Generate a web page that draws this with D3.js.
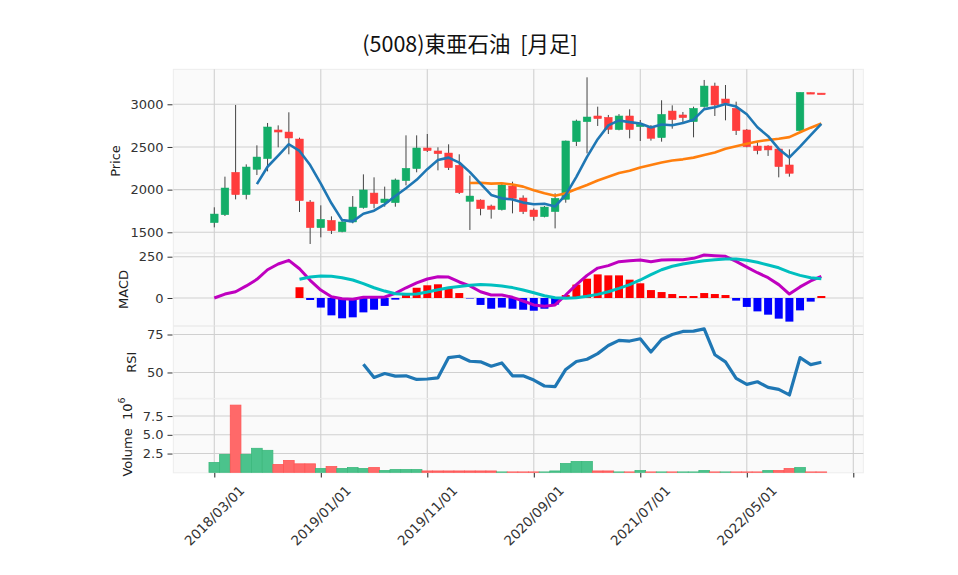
<!DOCTYPE html>
<html><head><meta charset="utf-8">
<script src="https://cdn.jsdelivr.net/npm/d3@7/dist/d3.min.js"></script>
<style>body{margin:0;background:#fff}svg{display:block}</style>
</head><body><svg id="c" width="958" height="575"></svg>
<script>
const title = "(5008)東亜石油  [月足]";
const dates = ["2018/03/01","2018/04/01","2018/05/01","2018/06/01","2018/07/01","2018/08/01","2018/09/01","2018/10/01","2018/11/01","2018/12/01",
"2019/01/01","2019/02/01","2019/03/01","2019/04/01","2019/05/01","2019/06/01","2019/07/01","2019/08/01","2019/09/01","2019/10/01",
"2019/11/01","2019/12/01","2020/01/01","2020/02/01","2020/03/01","2020/04/01","2020/05/01","2020/06/01","2020/07/01","2020/08/01",
"2020/09/01","2020/10/01","2020/11/01","2020/12/01","2021/01/01","2021/02/01","2021/03/01","2021/04/01","2021/05/01","2021/06/01",
"2021/07/01","2021/08/01","2021/09/01","2021/10/01","2021/11/01","2021/12/01","2022/01/01","2022/02/01","2022/03/01","2022/04/01",
"2022/05/01","2022/06/01","2022/07/01","2022/08/01","2022/09/01","2022/10/01","2022/11/01","2022/12/01"];
const open  = [1613,1706,2203,1941,2238,2363,2699,2675,2593,1855,1554,1640,1507,1621,1789,1960,1847,1847,2105,2246,2488,2453,2429,2285,1863,1878,1808,1765,2042,1902,1761,1683,1742,1886,2562,2796,2863,2847,2703,2863,2738,2726,2609,2921,2875,2796,2972,3214,3062,2953,2699,2511,2511,2476,2289,2691,3138,3131];
const high  = [1793,2152,2992,2296,2519,2781,2753,2906,2609,1878,1816,1687,1630,1925,2179,2144,2035,2130,2636,2636,2652,2496,2531,2414,2164,1886,1824,2070,2093,1933,1781,1808,1957,2575,2820,3316,2972,2875,2885,2941,2816,2757,3047,2988,2910,2972,3285,3253,3226,3031,2710,2554,2520,2484,2472,3140,3138,3131];
const low   = [1558,1691,1886,1886,2171,2214,2496,2414,1738,1363,1441,1480,1500,1605,1777,1781,1800,1800,2050,2203,2441,2226,2230,1949,1527,1699,1660,1755,1722,1714,1636,1675,1546,1847,2511,2425,2746,2652,2695,2601,2570,2574,2562,2714,2777,2613,2960,2863,2812,2640,2496,2414,2395,2144,2152,2691,3130,3125];
const close = [1714,2019,1941,2265,2382,2734,2675,2605,1871,1554,1652,1519,1621,1796,1996,1835,1890,2113,2250,2488,2457,2421,2257,1964,1925,1777,1769,2054,1898,1742,1683,1796,1898,2570,2804,2851,2832,2707,2863,2703,2765,2601,2882,2820,2843,2953,3214,2992,3011,2691,2503,2457,2465,2269,2191,3140,3132,3127];
const volumeM = [1.31,2.39,8.96,2.39,3.20,2.93,1.04,1.58,1.13,1.13,0.50,0.77,0.50,0.63,0.50,0.63,0.23,0.36,0.36,0.36,0.18,0.18,0.18,0.18,0.18,0.18,0.18,0.05,0.05,0.05,0.05,0.05,0.18,1.17,1.44,1.44,0.18,0.18,0.05,0.05,0.23,0.05,0.05,0.05,0.05,0.05,0.23,0.05,0.05,0.05,0.05,0.05,0.23,0.23,0.50,0.63,0.05,0.05];
const ma5 = [null,null,null,null,2064,2268,2399,2532,2453,2288,2071,1840,1643,1628,1717,1753,1828,1926,2017,2115,2240,2346,2375,2317,2205,2069,1938,1898,1885,1848,1829,1835,1803,1938,2150,2384,2591,2753,2811,2791,2774,2728,2763,2754,2782,2820,2943,2965,3003,2973,2883,2731,2626,2477,2377,2505,2639,2771];
const ma25 = [null,null,null,null,null,null,null,null,null,null,null,null,null,null,null,null,null,null,null,null,null,null,null,null,2078,2080,2070,2075,2060,2035,1992,1957,1929,1957,2007,2055,2107,2151,2194,2222,2259,2288,2318,2341,2355,2375,2407,2436,2478,2509,2538,2565,2582,2597,2615,2673,2726,2775];
const macd = [0,24,38,73,113,171,206,228,177,107,48,8,-4,-8,4,4,6,28,62,91,115,129,127,97,73,38,18,18,4,-18,-42,-50,-42,18,81,137,181,196,220,226,230,220,230,232,232,240,260,256,252,222,187,153,123,81,24,67,103,131];
const signal = [null,null,null,null,null,null,null,null,113,127,133,131,123,109,87,62,42,26,22,24,36,50,62,69,77,81,79,73,63,48,32,14,2,-2,2,10,22,38,58,81,109,141,171,192,206,216,226,232,236,236,228,216,200,183,157,137,123,117];
const hist = [null,null,null,null,null,null,null,null,65,-12,-58,-105,-123,-117,-87,-71,-48,-10,18,62,77,83,65,30,-3,-42,-65,-58,-65,-71,-77,-65,-40,18,81,117,143,137,137,111,89,48,36,24,12,12,30,24,18,-16,-54,-81,-101,-125,-143,-75,-22,12];
const rsi = [null,null,null,null,null,null,null,null,null,null,null,null,null,null,55.4,46.7,49.3,47.6,47.8,45.4,45.7,46.5,59.8,60.7,57.4,57.0,54.1,56.3,47.8,47.8,45.0,41.1,40.7,52.0,57.2,58.7,62.4,67.8,71.1,70.7,72.2,63.5,71.7,75.0,77.0,77.2,78.7,61.7,57.0,46.1,42.2,43.9,40.2,38.9,35.2,59.8,55.2,56.7];
const xTickIdx = [0,10,20,30,40,50,60];
const xTickLabels = ["2018/03/01","2019/01/01","2019/11/01","2020/09/01","2021/07/01","2022/05/01",""];
const priceTicks = [1500,2000,2500,3000];
const macdTicks = [0,250];
const rsiTicks = [50,75];
const volTicks = [2.5,5.0,7.5];

const svg = d3.select("#c");
const FONT = "DejaVu Sans, sans-serif";
const X0 = 173.3, X1 = 863.3;
const x = d3.scaleLinear().domain([-3.85, 60.94]).range([X0, X1]);
const unit = x(1) - x(0);
const P = {price:[69.3,252.7], macd:[253.3,325.7], rsi:[326.3,398.3], vol:[398.9,472.8]};
const yP = d3.scaleLinear().domain([1261,3410]).range([P.price[1],P.price[0]]);
const yM = d3.scaleLinear().domain([-167.7,270.6]).range([P.macd[1],P.macd[0]]);
const yR = d3.scaleLinear().domain([33.0,80.4]).range([P.rsi[1],P.rsi[0]]);
const yV = d3.scaleLinear().domain([0,9.87]).range([472.3,398.3]);

const idx = d3.range(dates.length);

function panel(key, yscale, ticks, fmt) {
  const [t,b] = P[key];
  svg.append("rect").attr("x",X0).attr("y",t).attr("width",X1-X0).attr("height",b-t)
    .attr("fill","#fafafa").attr("stroke","#ededed").attr("stroke-width",1);
  const g = svg.append("g");
  g.selectAll(".vg").data(xTickIdx).join("line")
    .attr("x1",d=>x(d)).attr("x2",d=>x(d)).attr("y1",t).attr("y2",b)
    .attr("stroke","#d0d0d0").attr("stroke-width",1.1);
  g.selectAll(".hg").data(ticks).join("line")
    .attr("x1",X0).attr("x2",X1).attr("y1",d=>yscale(d)).attr("y2",d=>yscale(d))
    .attr("stroke","#d0d0d0").attr("stroke-width",1.1);
  const ax = svg.append("g").attr("transform","translate(172.5,0)")
    .call(d3.axisLeft(yscale).tickValues(ticks).tickFormat(fmt).tickSize(5).tickPadding(4));
  ax.select(".domain").remove();
  ax.selectAll("line").attr("stroke","#333");
  ax.selectAll("text").attr("font-family",FONT).attr("font-size",13).attr("fill","#333");
  return g;
}
panel("price", yP, priceTicks, d3.format("d"));
panel("macd", yM, macdTicks, d3.format("d"));
panel("rsi", yR, rsiTicks, d3.format("d"));
panel("vol", yV, volTicks, d3.format(".1f"));

function ylab(txt, cx, cy) {
  return svg.append("text").attr("transform",`translate(${cx},${cy}) rotate(-90)`)
    .attr("text-anchor","middle").attr("dominant-baseline","central")
    .attr("font-family",FONT).attr("font-size",13).attr("fill","#222").text(txt);
}
ylab("Price", 115.5, 161);
ylab("MACD", 123, 289.5);
ylab("RSI", 131.5, 362.3);
const vl = svg.append("text").attr("transform",`translate(126.5,437) rotate(-90)`)
  .attr("text-anchor","middle").attr("dominant-baseline","central")
  .attr("font-family",FONT).attr("font-size",13).attr("fill","#222").style("white-space","pre");
vl.append("tspan").text("Volume  10");
vl.append("tspan").attr("font-size",9.5).attr("dy",-6).text("6");

const UP = "#13ad68", DN = "#ff3d3d";
const cg = svg.append("g");
cg.selectAll(".wick").data(idx).join("line")
  .attr("x1",i=>x(i)).attr("x2",i=>x(i)).attr("y1",i=>yP(high[i])).attr("y2",i=>yP(low[i]))
  .attr("stroke","#444").attr("stroke-width",1);
const bw = 0.72*unit;
cg.selectAll(".body").data(idx).join("rect")
  .attr("x",i=>x(i)-bw/2).attr("width",bw)
  .attr("y",i=>yP(Math.max(open[i],close[i])))
  .attr("height",i=>Math.max(1.6, Math.abs(yP(open[i])-yP(close[i]))))
  .attr("fill",i=>close[i]>=open[i]?UP:DN)
  .attr("stroke",i=>close[i]>=open[i]?UP:DN).attr("stroke-width",0.5);

const line = (ys, arr) => d3.line().defined(i=>arr[i]!=null).x(i=>x(i)).y(i=>ys(arr[i]));
svg.append("path").attr("d",line(yP,ma25)(idx)).attr("fill","none").attr("stroke","#ff7f0e").attr("stroke-width",2.6).attr("stroke-linejoin","round");
svg.append("path").attr("d",line(yP,ma5)(idx)).attr("fill","none").attr("stroke","#1f77b4").attr("stroke-width",2.6).attr("stroke-linejoin","round");

const hw = 0.75*unit;
svg.append("g").selectAll("rect").data(idx.filter(i=>hist[i]!=null)).join("rect")
  .attr("x",i=>x(i)-hw/2).attr("width",hw)
  .attr("y",i=>yM(Math.max(0,hist[i]))).attr("height",i=>Math.abs(yM(hist[i])-yM(0)))
  .attr("fill",i=>hist[i]>=0?"#ff0000":"#0000ff");
svg.append("path").attr("d",line(yM,macd)(idx)).attr("fill","none").attr("stroke","#bf00bf").attr("stroke-width",3).attr("stroke-linejoin","round");
svg.append("path").attr("d",line(yM,signal)(idx)).attr("fill","none").attr("stroke","#00bfbf").attr("stroke-width",3).attr("stroke-linejoin","round");

svg.append("path").attr("d",line(yR,rsi)(idx)).attr("fill","none").attr("stroke","#1f77b4").attr("stroke-width",3.2).attr("stroke-linejoin","round");

const vUp = "#4bc38c", vDn = "#ff6969";
svg.append("g").selectAll("rect").data(idx).join("rect")
  .attr("x",i=>x(i)-unit/2).attr("width",unit)
  .attr("y",i=>yV(volumeM[i])).attr("height",i=>yV(0)-yV(volumeM[i]))
  .attr("fill",i=>(i===0||close[i]>=close[i-1])?vUp:vDn)
  .attr("stroke",i=>(i===0||close[i]>=close[i-1])?"#3bb87c":"#ff5555").attr("stroke-width",0.8);

const xa = svg.append("g").attr("transform","translate(0,473)")
  .call(d3.axisBottom(x).tickValues(xTickIdx).tickFormat("").tickSize(4.5));
xa.select(".domain").remove();
xa.selectAll("line").attr("stroke","#222");
svg.append("g").selectAll("text").data(xTickIdx.map((d,k)=>[d,xTickLabels[k]]).filter(d=>d[1])).join("text")
  .attr("transform",d=>`translate(${x(d[0])},515.5) rotate(-45)`)
  .attr("text-anchor","middle").attr("dominant-baseline","central")
  .attr("font-family",FONT).attr("font-size",13.5).attr("fill","#333").text(d=>d[1]);

svg.append("text").attr("x",470).attr("y",52).attr("text-anchor","middle")
  .attr("font-family","'Noto Sans CJK JP', sans-serif").attr("font-size",21.5).attr("fill","#111")
  .style("white-space","pre").text(title);
</script></body></html>
